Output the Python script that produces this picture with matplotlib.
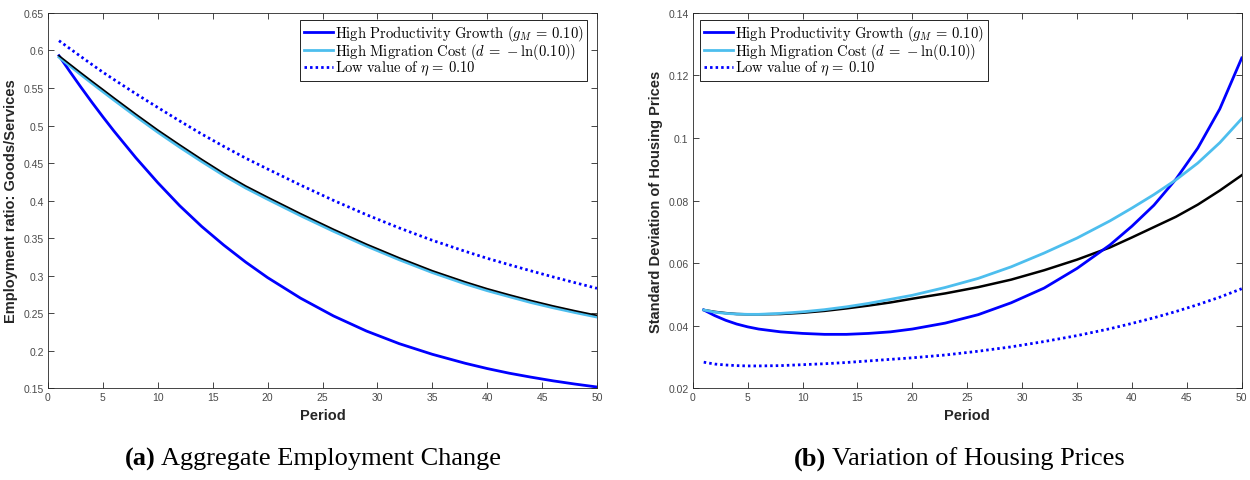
import matplotlib.pyplot as plt

plt.rcParams['mathtext.fontset'] = 'cm'

# simulated periods at which the series are stored
periods = [1, 2, 3, 4, 5, 6, 8, 10, 12, 14, 16, 18, 20, 23, 26, 29, 32, 35, 38, 40, 42, 44, 46, 48, 50]

# (a) employment ratio goods/services
emp_base = [0.593, 0.5816, 0.5702, 0.5590, 0.548, 0.5369, 0.5151, 0.494, 0.4742, 0.4549, 0.4364,
            0.4195, 0.4045, 0.3826, 0.3617, 0.3419, 0.3236, 0.3065, 0.2916, 0.2825, 0.2744,
            0.2667, 0.2596, 0.2531, 0.247]
emp_prod = [0.593, 0.5717, 0.551, 0.5309, 0.5115, 0.4927, 0.457, 0.4238, 0.393, 0.3654, 0.3407,
            0.318, 0.2973, 0.2699, 0.2462, 0.2261, 0.2092, 0.1951, 0.1831, 0.1761, 0.1699,
            0.1646, 0.1597, 0.1554, 0.1515]
emp_migr = [0.591, 0.5793, 0.5676, 0.5562, 0.545, 0.5339, 0.5121, 0.491, 0.471, 0.4519, 0.4335,
            0.4167, 0.4017, 0.3798, 0.359, 0.3393, 0.321, 0.304, 0.2889, 0.2799, 0.2719,
            0.264, 0.2571, 0.2507, 0.2447]
emp_eta = [0.613, 0.6024, 0.5918, 0.5813, 0.571, 0.5613, 0.5423, 0.524, 0.506, 0.4886, 0.4722,
           0.4565, 0.442, 0.4206, 0.4002, 0.3811, 0.3634, 0.347, 0.3323, 0.323, 0.3145,
           0.3062, 0.2982, 0.2905, 0.283]

# (b) standard deviation of housing prices
hp_base = [0.045, 0.0444, 0.044, 0.0437, 0.0436, 0.0436, 0.0437, 0.0441, 0.0447, 0.0455, 0.0464,
           0.0474, 0.0486, 0.0503, 0.0523, 0.0547, 0.0577, 0.0611, 0.065, 0.0682, 0.0715,
           0.0748, 0.0787, 0.0832, 0.0881]
hp_prod = [0.045, 0.0432, 0.0417, 0.0405, 0.0396, 0.0389, 0.038, 0.0375, 0.0372, 0.0372, 0.0375,
           0.038, 0.0389, 0.0408, 0.0435, 0.0473, 0.052, 0.0583, 0.0658, 0.0718, 0.0785,
           0.0868, 0.0968, 0.1093, 0.1256]
hp_migr = [0.045, 0.0443, 0.0439, 0.0437, 0.0436, 0.0436, 0.0439, 0.0444, 0.0451, 0.046, 0.0471,
           0.0484, 0.0497, 0.0522, 0.0551, 0.0588, 0.0632, 0.068, 0.0735, 0.0776, 0.0819,
           0.0866, 0.092, 0.0985, 0.1062]
hp_eta = [0.0283, 0.0277, 0.0274, 0.0272, 0.0271, 0.0271, 0.0272, 0.0275, 0.0278, 0.0282, 0.0287,
          0.0292, 0.0297, 0.0306, 0.0318, 0.0332, 0.0349, 0.0368, 0.039, 0.0407, 0.0425,
          0.0445, 0.0467, 0.0491, 0.0518]

labels = [r'$\mathrm{High\ Productivity\ Growth\ (}g_M \,=\, 0.10\mathrm{)}$',
          r'$\mathrm{High\ Migration\ Cost\ (}d \,=\, -\ln(0.10)\mathrm{)}$',
          r'$\mathrm{Low\ value\ of\ }\eta \,=\, 0.10$']

CYAN = '#4DBEEE'
AX_COL = '#262626'
TICK_COL = '#4a4a4a'
DOTS = (0, (0.9, 1.1))


def fmt(v):
    return ('%.2f' % v).rstrip('0').rstrip('.')


def style(ax, yticks, ylabel):
    ax.set_xlim(0, 50)
    ax.set_xticks(range(0, 51, 5))
    ax.set_yticks(yticks)
    ax.set_ylim(yticks[0], yticks[-1])
    ax.set_yticklabels([fmt(v) for v in yticks])
    ax.tick_params(direction='in', length=4, width=0.6, top=True, right=True,
                   labelsize=7.5, labelcolor=TICK_COL, color=AX_COL, pad=3)
    for lab in ax.get_xticklabels() + ax.get_yticklabels():
        lab.set_family('Liberation Sans')
    for sp in ax.spines.values():
        sp.set_color(AX_COL)
        sp.set_linewidth(0.6)
    ax.set_xlabel('Period', fontsize=10.5, fontweight='bold', family='Liberation Sans',
                  color=AX_COL, labelpad=4)
    ax.set_ylabel(ylabel, fontsize=10.5, fontweight='bold', family='Liberation Sans',
                  color=AX_COL, labelpad=4)


def add_legend(ax, loc, anchor):
    leg = ax.legend(loc=loc, bbox_to_anchor=anchor, fontsize=10.5,
                    handlelength=2.0, handletextpad=0.15, borderpad=0.25, labelspacing=-0.15,
                    borderaxespad=0, fancybox=False, framealpha=1)
    leg.get_frame().set_edgecolor('black')
    leg.get_frame().set_linewidth(0.6)
    return leg


fig = plt.figure(figsize=(12.5, 4.81), dpi=100)
ax1 = fig.add_axes([0.0384, 0.191, 0.4392, 0.780])
ax2 = fig.add_axes([0.5542, 0.191, 0.4392, 0.780])

# left panel
ax1.plot(periods, emp_prod, color='blue', lw=2.0, label=labels[0])
ax1.plot(periods, emp_migr, color=CYAN, lw=2.0, label=labels[1])
ax1.plot(periods, emp_eta, color='blue', lw=2.0, ls=DOTS, label=labels[2])
ax1.plot(periods, emp_base, color='black', lw=1.2)
style(ax1, [0.15, 0.2, 0.25, 0.3, 0.35, 0.4, 0.45, 0.5, 0.55, 0.6, 0.65],
      'Employment ratio: Goods/Services')
add_legend(ax1, 'upper right', (0.982, 0.982))

# right panel
ax2.plot(periods, hp_base, color='black', lw=1.8)
ax2.plot(periods, hp_prod, color='blue', lw=2.0, label=labels[0])
ax2.plot(periods, hp_migr, color=CYAN, lw=2.0, label=labels[1])
ax2.plot(periods, hp_eta, color='blue', lw=2.0, ls=DOTS, label=labels[2])
style(ax2, [0.02, 0.04, 0.06, 0.08, 0.1, 0.12, 0.14],
      'Standard Deviation of Housing Prices')
add_legend(ax2, 'upper left', (0.014, 0.982))

# sub-figure captions, bold tag followed by plain title, centred under each panel
renderer = fig.canvas.get_renderer()
W = fig.get_figwidth() * fig.dpi
for cx, tag, text in [(313, '(a)', 'Aggregate Employment Change'),
                      (959, '(b)', 'Variation of Housing Prices')]:
    t1 = fig.text(0, 0.033, tag, fontsize=19, fontweight='bold', family='Liberation Serif',
                  ha='left', va='baseline')
    t2 = fig.text(0, 0.033, text, fontsize=19, family='Liberation Serif',
                  ha='left', va='baseline')
    w1 = t1.get_window_extent(renderer).width
    w2 = t2.get_window_extent(renderer).width
    gap = 6
    x0 = cx - (w1 + gap + w2) / 2
    t1.set_x(x0 / W)
    t2.set_x((x0 + w1 + gap) / W)

fig.savefig('out.png', dpi=100)
